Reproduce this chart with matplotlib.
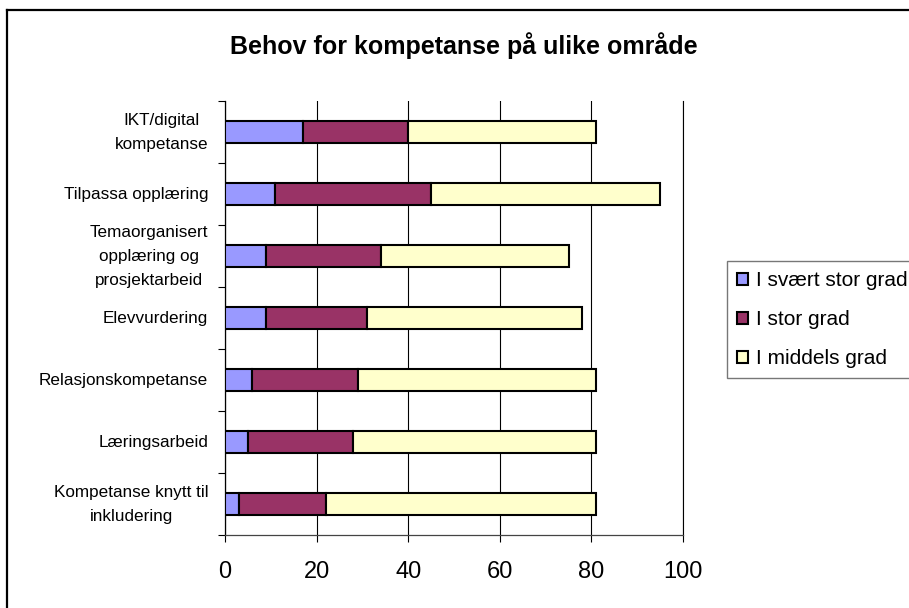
import matplotlib.pyplot as plt
from matplotlib.lines import Line2D
import numpy as np

categories = [
    "IKT/digital\nkompetanse",
    "Tilpassa opplæring",
    "Temaorganisert\nopplæring og\nprosjektarbeid",
    "Elevvurdering",
    "Relasjonskompetanse",
    "Læringsarbeid",
    "Kompetanse knytt til\ninkludering",
]
svaert_stor = [17, 11, 9, 9, 6, 5, 3]
stor = [23, 34, 25, 22, 23, 23, 19]
middels = [41, 50, 41, 47, 52, 53, 59]

series_names = ["I svært stor grad", "I stor grad", "I middels grad"]
colors = ["#9999FF", "#993366", "#FFFFCC"]

plt.rcParams["font.family"] = ["Liberation Sans", "DejaVu Sans"]

fig = plt.figure(figsize=(9.09, 6.08), dpi=100)
ax = fig.add_axes([225 / 909, 1 - 535 / 608, 458 / 909, 434 / 608])

y = np.arange(len(categories))
left = np.zeros(len(categories))
for vals, name, col in zip([svaert_stor, stor, middels], series_names, colors):
    ax.barh(y, vals, left=left, height=0.37, color=col, edgecolor="black",
            linewidth=1.5, label=name, zorder=3)
    left += np.array(vals)

ax.set_xlim(0, 100)
ax.set_ylim(len(categories) - 0.5, -0.5)
ax.set_xticks(range(0, 101, 20))
ax.tick_params(axis="x", labelsize=17, length=5, width=0.8, pad=14)

# labels at category centres, tick marks on the boundaries
ax.set_yticks(y)
ax.set_yticklabels(categories, fontsize=12.3, linespacing=1.75,
                   multialignment="center", va="center")
ax.set_yticks(np.arange(-0.5, len(categories)), minor=True)
ax.tick_params(axis="y", which="major", length=0, pad=12)
ax.tick_params(axis="y", which="minor", length=5, width=0.8)

ax.grid(axis="x", color="black", linewidth=0.8, zorder=0)
ax.axvline(100, color="black", linewidth=0.8, zorder=0, clip_on=False)
for s in ["top", "right"]:
    ax.spines[s].set_visible(False)
ax.spines["left"].set_linewidth(0.9)
ax.spines["bottom"].set_linewidth(0.9)
ax.spines["bottom"].set_color("#444444")

fig.text(464 / 909, 1 - 46 / 608, "Behov for kompetanse på ulike område",
         ha="center", va="center", fontsize=18, fontweight="bold")

leg = fig.legend(loc="upper left", bbox_to_anchor=(727 / 909, 1 - 261 / 608),
                 fontsize=15, frameon=True, fancybox=False, handlelength=0.5,
                 handleheight=0.5, handletextpad=0.4, labelspacing=0.95,
                 borderpad=0.5, borderaxespad=0)
leg.get_frame().set_edgecolor("#555555")
leg.get_frame().set_linewidth(1.0)
for h in leg.legend_handles:
    h.set_linewidth(1.5)

# outer chart-area frame (clipped at right and bottom like the source)
fig.add_artist(Line2D([7 / 909, 7 / 909], [0, 1 - 10 / 608], color="black", lw=1.6))
fig.add_artist(Line2D([7 / 909, 1], [1 - 10 / 608, 1 - 10 / 608], color="black", lw=1.6))

fig.savefig("out.png", dpi=100)
